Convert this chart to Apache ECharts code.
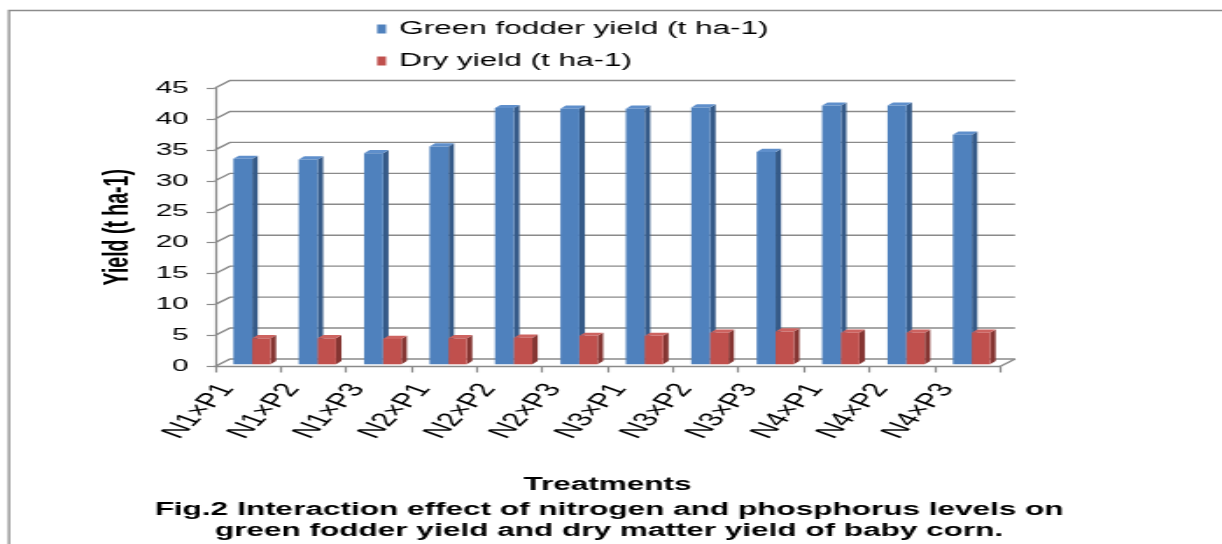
<!DOCTYPE html>
<html>
<head>
<meta charset="utf-8">
<script src="https://cdn.jsdelivr.net/npm/echarts@6/dist/echarts.min.js"></script>
<style>
  html, body { margin: 0; padding: 0; background: #fff; overflow: hidden; }
  #wrap { width: 1222px; height: 544px; overflow: hidden; }
  /* the figure is laid out narrow and widened horizontally */
  #chart { width: 698px; height: 544px; transform: scaleX(1.750716); transform-origin: 0 0; }
</style>
</head>
<body>
<div id="wrap"><div id="chart"></div></div>
<script>
// Treatment combinations (nitrogen x phosphorus levels)
const categories = ['N1×P1', 'N1×P2', 'N1×P3', 'N2×P1', 'N2×P2', 'N2×P3',
                    'N3×P1', 'N3×P2', 'N3×P3', 'N4×P1', 'N4×P2', 'N4×P3'];
// Green fodder yield (t ha-1)
const greenFodder = [33.2, 33.1, 34.1, 35.2, 41.4, 41.3, 41.3, 41.5, 34.3, 41.8, 41.8, 37.1];
// Dry matter yield (t ha-1)
const dryYield = [4.2, 4.2, 4.1, 4.2, 4.3, 4.6, 4.6, 5.1, 5.3, 5.1, 5.1, 5.1];
// Value-axis ticks
const yTicks = [0, 5, 10, 15, 20, 25, 30, 35, 40, 45];

const FONT = '"Liberation Sans", Arial, sans-serif';
const GRID_COLOR = '#8a8a8a';
// depth of the back wall and of the columns (pseudo-3D)
const WALL_DX = 8.57, WALL_DY = -7.5;
const BAR_SHIFT_Y = -2.2;
const BAR_DX = 3.1, BAR_DY = -3.2;

const GREEN = { front: '#4F81BD', side: '#355A88', top: '#5F8FCB' };
const DRY = { front: '#C0504D', side: '#853532', top: '#CD6360' };

function renderWall(params, api) {
  const cs = params.coordSys;
  const v = api.value(1);
  const y = api.coord([0, v])[1];
  const x0 = cs.x, x1 = cs.x + cs.width;
  const style = { stroke: GRID_COLOR, lineWidth: 1.4, fill: null };
  const children = [{
    type: 'polyline',
    shape: { points: [[x0, y], [x0 + WALL_DX, y + WALL_DY], [x1 + WALL_DX, y + WALL_DY]] },
    style: style
  }];
  if (v === 0) {
    children.push({ type: 'line', shape: { x1: x1, y1: y, x2: x1 + WALL_DX, y2: y + WALL_DY }, style: style });
  }
  return { type: 'group', children: children };
}

function barRenderer(lo, hi, c) {
  return function (params, api) {
    const i = api.value(0), v = api.value(1);
    const base = api.coord([i, 0]);
    const top = api.coord([i, v]);
    const band = api.size([1, 0])[0];
    const xl = base[0] + lo * band, xr = base[0] + hi * band;
    const yb = base[1] + BAR_SHIFT_Y, yt = top[1] + BAR_SHIFT_Y;
    return {
      type: 'group',
      children: [
        { type: 'polygon', shape: { points: [[xr, yb], [xr + BAR_DX, yb + BAR_DY], [xr + BAR_DX, yt + BAR_DY], [xr, yt]] },
          style: { fill: c.side } },
        { type: 'polygon', shape: { points: [[xl, yt], [xl + BAR_DX, yt + BAR_DY], [xr + BAR_DX, yt + BAR_DY], [xr, yt]] },
          style: { fill: c.top } },
        { type: 'rect', shape: { x: xl, y: yt, width: xr - xl, height: yb - yt }, style: { fill: c.front } }
      ]
    };
  };
}

const chart = echarts.init(document.getElementById('chart'), null, { renderer: 'canvas' });
chart.setOption({
  animation: false,
  backgroundColor: '#fff',
  textStyle: { fontFamily: FONT },
  legend: {
    orient: 'vertical',
    left: 210.4,
    top: 15,
    itemWidth: 5.1,
    itemHeight: 9,
    itemGap: 14,
    icon: 'rect',
    data: ['Green fodder yield (t ha-1)', 'Dry yield (t ha-1)'],
    textStyle: { fontSize: 18, color: '#000', fontFamily: FONT, padding: [0, 0, 0, 2.4] }
  },
  grid: { left: 122.8, right: 126.8, top: 88, bottom: 177.5 },
  xAxis: {
    type: 'category',
    data: categories,
    name: 'Treatments',
    nameLocation: 'middle',
    nameGap: 109.5,
    nameTextStyle: { fontSize: 18, fontWeight: 'bold', color: '#000', fontFamily: FONT },
    axisLine: { show: true, lineStyle: { color: GRID_COLOR, width: 1.4 } },
    axisTick: { show: true, length: 6, lineStyle: { color: GRID_COLOR, width: 1.2 } },
    axisLabel: { interval: 0, rotate: 58, fontSize: 19.5, color: '#000', margin: 0,
                 padding: [0, 22.5, 7, 0], fontFamily: FONT },
    splitLine: { show: false }
  },
  yAxis: {
    type: 'value',
    min: 0,
    max: 45,
    interval: 5,
    name: 'Yield (t ha-1)',
    nameLocation: 'middle',
    nameRotate: 90,
    nameGap: 44,
    nameTextStyle: { fontSize: 19.5, fontWeight: 'bold', color: '#000', fontFamily: FONT },
    axisLine: { show: true, lineStyle: { color: GRID_COLOR, width: 1.2 } },
    axisTick: { show: true, length: 4.7, lineStyle: { color: GRID_COLOR, width: 1.2 } },
    axisLabel: { fontSize: 17, color: '#000', margin: 15, fontFamily: FONT },
    splitLine: { show: false }
  },
  graphic: [
    { type: 'rect', shape: { x: 5.1, y: 10.5, width: 2000, height: 2000 },
      style: { stroke: '#8c8c8c', lineWidth: 1.3, fill: null }, z: -10 },
    { type: 'text', x: 347.9, y: 500,
      style: { text: 'Fig.2 Interaction effect of nitrogen and phosphorus levels on\ngreen fodder yield and dry matter yield of baby corn.',
               font: 'bold 18px ' + FONT, fill: '#000', textAlign: 'center', textVerticalAlign: 'top', lineHeight: 21 } }
  ],
  series: [
    { type: 'custom', name: 'wall', silent: true, z: 1,
      data: yTicks.map(v => [0, v]), renderItem: renderWall },
    { type: 'custom', name: 'Green fodder yield (t ha-1)', z: 2, itemStyle: { color: GREEN.front },
      data: greenFodder.map((v, i) => [i, v]), renderItem: barRenderer(-0.22, 0.07, GREEN) },
    { type: 'custom', name: 'Dry yield (t ha-1)', z: 3, itemStyle: { color: DRY.front },
      data: dryYield.map((v, i) => [i, v]), renderItem: barRenderer(0.07, 0.35, DRY) }
  ]
});
</script>
</body>
</html>
